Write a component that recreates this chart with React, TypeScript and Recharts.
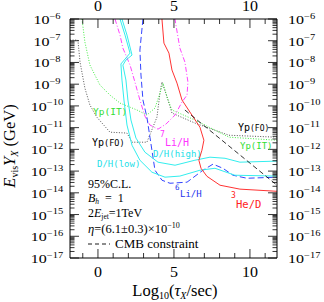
import React from "react";
import { ComposedChart, Line, XAxis, YAxis } from "recharts";

// [log10(tau/sec), log10(E_vis Y_X / GeV)]
type P = [number, number];

const ypFO: P[] = [
  [-1.84, -6.97], [-1.32, -6.97], [-1.18, -7.98], [-0.86, -9.18], [-0.53, -9.96],
  [-0.07, -10.52], [0.79, -11.21], [1.91, -11.25], [2.24, -11.67], [3.22, -11.67],
  [3.88, -10.52], [4.08, -9.41], [4.21, -8.9], [4.61, -9.73], [4.87, -10.33],
  [6.38, -10.79], [8.62, -11.35], [11.78, -11.44],
];

const ypIT: P[] = [
  [-1.05, -6.0], [-0.86, -7.06], [-0.53, -8.12], [0.13, -9.04], [0.79, -9.5],
  [1.45, -9.87], [2.57, -10.19], [3.22, -10.42], [3.75, -10.1], [4.08, -9.41],
  [4.28, -8.95], [4.61, -9.73], [4.87, -10.19], [6.38, -10.65], [8.62, -11.44],
  [11.78, -11.58],
];

const li7: P[] = [
  [1.12, -6.0], [1.45, -6.74], [1.64, -7.34], [2.11, -8.12], [2.43, -8.9],
  [2.76, -9.73], [3.09, -10.47], [3.42, -10.88], [3.95, -11.07], [4.47, -10.84],
  [5.07, -10.42], [5.53, -9.82], [5.86, -9.5], [5.92, -8.9], [5.72, -7.98],
  [5.39, -7.34], [5.13, -6.28], [5.07, -6.0],
];

const li6: P[] = [
  [2.96, -6.0], [2.76, -7.43], [2.83, -8.58], [2.96, -9.73], [3.22, -10.52],
  [3.42, -11.44], [3.62, -12.36], [3.75, -12.96], [4.21, -13.42], [4.74, -13.56],
  [5.86, -13.51], [6.91, -12.96], [7.57, -12.68], [8.22, -12.87], [8.88, -13.19],
  [9.8, -13.33], [11.78, -13.28],
];

const dhLow: P[] = [
  [1.45, -6.0], [1.78, -6.74], [2.11, -7.57], [1.51, -8.07], [1.58, -8.81],
  [1.71, -9.73], [1.91, -10.88], [2.24, -11.81], [2.76, -12.5], [3.55, -13.05],
  [4.41, -13.28], [5.39, -13.23], [6.71, -12.96], [7.7, -12.87], [9.01, -13.19],
  [11.78, -13.23],
];

const dhHigh: P[] = [
  [1.58, -6.0], [1.91, -6.74], [2.24, -7.66], [1.84, -7.89], [1.64, -8.12],
  [1.84, -8.81], [1.97, -9.73], [2.17, -10.65], [2.5, -11.48], [3.09, -12.13],
  [3.95, -12.59], [5.07, -12.73], [6.38, -12.5], [7.37, -12.36], [8.36, -12.41],
  [9.34, -12.59], [11.78, -12.54],
];

const he3: P[] = [
  [4.21, -6.0], [4.34, -7.11], [4.67, -7.57], [4.87, -8.35], [5.2, -8.95],
  [5.53, -9.73], [6.18, -10.42], [6.71, -10.98], [6.97, -11.58], [6.84, -12.04],
  [6.64, -12.5], [6.78, -12.87], [7.17, -13.24], [8.03, -13.65], [9.34, -13.83],
  [11.78, -13.93],
];

const cmb: P[] = [
  [5.72, -10.19], [11.78, -13.65],
];

const xTicks = [-1, 0, 1, 2, 3, 4, 5, 6, 7, 8, 9, 10, 11];
const xLabeled = [0, 5, 10];
const yDecades = [-17, -16, -15, -14, -13, -12, -11, -10, -9, -8, -7, -6];
const yMinorSteps = [2, 3, 4, 5, 6, 7, 8, 9];

const yTicks: number[] = [];
yDecades.forEach((d) => {
  yTicks.push(Math.pow(10, d));
  if (d < -6) yMinorSteps.forEach((k) => yTicks.push(k * Math.pow(10, d)));
});

const toPts = (arr: P[]) => arr.map(([x, e]) => ({ x, y: Math.pow(10, e) }));

const SERIF = "'Liberation Serif', 'DejaVu Serif', serif";
const MONO = "'DejaVu Sans Mono', 'Liberation Mono', monospace";

const isDecade = (v: number) => {
  const e = Math.log10(v);
  return Math.abs(e - Math.round(e)) < 1e-6;
};

// tick labels in the figure are wide and squat, so squash a larger font
function PowLabel({ x, y, e, anchor }: { x: number; y: number; e: number; anchor: "middle" | "start" }) {
  return (
    <text
      transform={`translate(${x},${y}) scale(1,0.78)`}
      textAnchor={anchor}
      fontFamily={SERIF}
      fontSize={16}
      fill="#000"
    >
      10
      <tspan dy={-7} fontSize={10.5}>
        {"\u2212" + Math.abs(e)}
      </tspan>
    </text>
  );
}

function LeftTick(props: any) {
  const { x, y, payload } = props;
  const v = payload.value;
  const major = isDecade(v);
  return (
    <g>
      <line x1={x} x2={x + (major ? 9 : 4.5)} y1={y} y2={y} stroke="#000" strokeWidth={0.8} />
      {major && <PowLabel x={x - 23} y={y + 5} e={Math.round(Math.log10(v))} anchor="middle" />}
    </g>
  );
}

function RightTick(props: any) {
  const { x, y, payload } = props;
  const v = payload.value;
  const major = isDecade(v);
  return (
    <g>
      <line x1={x} x2={x - (major ? 9 : 4.5)} y1={y} y2={y} stroke="#000" strokeWidth={0.8} />
      {major && <PowLabel x={x + 11} y={y + 5} e={Math.round(Math.log10(v))} anchor="start" />}
    </g>
  );
}

function NumLabel({ x, y, v }: { x: number; y: number; v: number }) {
  return (
    <text
      transform={`translate(${x},${y}) scale(1,0.85)`}
      textAnchor="middle"
      fontFamily={SERIF}
      fontSize={16}
      fill="#000"
    >
      {v}
    </text>
  );
}

function BottomTick(props: any) {
  const { x, y, payload } = props;
  const v = payload.value;
  const major = xLabeled.includes(v);
  return (
    <g>
      <line x1={x} x2={x} y1={y} y2={y - (major ? 9 : 5)} stroke="#000" strokeWidth={0.8} />
      {major && <NumLabel x={x} y={y + 19} v={v} />}
    </g>
  );
}

function TopTick(props: any) {
  const { x, y, payload } = props;
  const v = payload.value;
  const major = xLabeled.includes(v);
  return (
    <g>
      <line x1={x} x2={x} y1={y} y2={y + (major ? 9 : 5)} stroke="#000" strokeWidth={0.8} />
      {major && <NumLabel x={x} y={y - 8} v={v} />}
    </g>
  );
}

const series = [
  { key: "ypFO", data: ypFO, color: "#555555", dash: "1 1.6", width: 1 },
  { key: "ypIT", data: ypIT, color: "#44ee44", dash: "1 1.6", width: 1 },
  { key: "li7", data: li7, color: "#ff44ff", dash: "5 2 1 2", width: 1 },
  { key: "li6", data: li6, color: "#3344ff", dash: "6 3", width: 1 },
  { key: "dhLow", data: dhLow, color: "#33eeee", dash: undefined, width: 1 },
  { key: "dhHigh", data: dhHigh, color: "#33eeee", dash: undefined, width: 1 },
  { key: "he3", data: he3, color: "#ff3333", dash: undefined, width: 1 },
  { key: "cmb", data: cmb, color: "#000000", dash: "5 3", width: 0.8 },
];

export default function App() {
  return (
    <div style={{ position: "absolute", left: 0, top: 0, width: 324, height: 302, background: "#fff" }}>
      <ComposedChart width={324} height={302} margin={{ top: 18, right: 46, bottom: 43, left: 69 }}>
        <XAxis
          xAxisId="b"
          dataKey="x"
          type="number"
          domain={[-1.84, 11.78]}
          allowDataOverflow
          ticks={xTicks}
          interval={0}
          height={1}
          tickSize={0}
          tickMargin={0}
          tickLine={false}
          axisLine={{ stroke: "#000" }}
          tick={(p: any) => <BottomTick {...p} />}
        />
        <XAxis
          xAxisId="t"
          orientation="top"
          dataKey="x"
          type="number"
          domain={[-1.84, 11.78]}
          allowDataOverflow
          ticks={xTicks}
          interval={0}
          height={1}
          tickSize={0}
          tickMargin={0}
          tickLine={false}
          axisLine={{ stroke: "#000" }}
          tick={(p: any) => <TopTick {...p} />}
        />
        <YAxis
          yAxisId="l"
          type="number"
          scale="log"
          domain={[1e-17, 1e-6]}
          allowDataOverflow
          ticks={yTicks}
          interval={0}
          width={1}
          tickSize={0}
          tickMargin={0}
          tickLine={false}
          axisLine={{ stroke: "#000" }}
          tick={(p: any) => <LeftTick {...p} />}
        />
        <YAxis
          yAxisId="r"
          orientation="right"
          type="number"
          scale="log"
          domain={[1e-17, 1e-6]}
          allowDataOverflow
          ticks={yTicks}
          interval={0}
          width={1}
          tickSize={0}
          tickMargin={0}
          tickLine={false}
          axisLine={{ stroke: "#000" }}
          tick={(p: any) => <RightTick {...p} />}
        />
        {series.map((s) => (
          <Line
            key={s.key}
            xAxisId="b"
            yAxisId="l"
            data={toPts(s.data)}
            dataKey="y"
            type="linear"
            stroke={s.color}
            strokeWidth={s.width}
            strokeDasharray={s.dash}
            dot={false}
            activeDot={false}
            isAnimationActive={false}
          />
        ))}
      </ComposedChart>
      <svg width={324} height={302} style={{ position: "absolute", left: 0, top: 0, pointerEvents: "none" }}>
        {/* axis titles */}
        <text transform="translate(15,146) rotate(-90)" textAnchor="middle" fontFamily={SERIF} fontSize={16.5} fill="#000">
          <tspan fontStyle="italic">E</tspan>
          <tspan fontSize={10} dy={3}>vis</tspan>
          <tspan fontStyle="italic" dy={-3}>Y</tspan>
          <tspan fontSize={10} fontStyle="italic" dy={3}>X</tspan>
          <tspan dy={-3}>{"\u00a0(GeV)"}</tspan>
        </text>
        <text x={175} y={296} textAnchor="middle" fontFamily={SERIF} fontSize={16.5} fill="#000">
          Log
          <tspan fontSize={10} dy={3}>10</tspan>
          <tspan dy={-3}>(</tspan>
          <tspan fontStyle="italic">τ</tspan>
          <tspan fontSize={10} fontStyle="italic" dy={3}>X</tspan>
          <tspan dy={-3}>/sec)</tspan>
        </text>

        {/* curve labels */}
        <text x={93} y={115} fontFamily={MONO} fontSize={9.5} fill="#33dd33">Yp(IT)</text>
        <text x={92} y={146} fontFamily={MONO} fill="#000">
          <tspan fontSize={10}>Yp</tspan>
          <tspan fontSize={8.5}>(FO)</tspan>
        </text>
        <text x={97} y={167} fontFamily={MONO} fontSize={9} fill="#22e0e8">D/H(low)</text>
        <text x={153} y={157} fontFamily={MONO} fontSize={9} fill="#22e0e8">D/H(high)</text>
        <text x={160} y={137} fontFamily={MONO} fontSize={8} fill="#ff33ff">7</text>
        <text x={165} y={146} fontFamily={MONO} fontSize={10} fill="#ff33ff">Li/H</text>
        <text x={175} y={190} fontFamily={MONO} fontSize={7.5} fill="#2233ee">6</text>
        <text x={180} y={197} fontFamily={MONO} fontSize={9} fill="#2233ee">Li/H</text>
        <text x={231} y={198} fontFamily={MONO} fontSize={8} fill="#ff2222">3</text>
        <text x={236} y={208} fontFamily={MONO} fontSize={10.5} fill="#ff2222">He/D</text>
        <text x={238} y={131} fontFamily={MONO} fill="#000">
          <tspan fontSize={10}>Yp</tspan>
          <tspan fontSize={8}>(FO)</tspan>
        </text>
        <text x={240} y={149} fontFamily={MONO} fontSize={9} fill="#33dd33">Yp(IT)</text>

        {/* parameter block */}
        <g fontFamily={SERIF} fontSize={12} fill="#000">
          <text x={88} y={188}>95%C.L.</text>
          <text x={88} y={202}>
            <tspan fontStyle="italic">B</tspan>
            <tspan fontSize={7.5} fontStyle="italic" dy={1.5}>h</tspan>
            <tspan dy={-1.5}>{"\u00a0\u00a0=\u00a0\u00a01"}</tspan>
          </text>
          <text x={88} y={217}>
            2<tspan fontStyle="italic">E</tspan>
            <tspan fontSize={7.5} dy={2}>jet</tspan>
            <tspan dy={-2}>=1TeV</tspan>
          </text>
          <text x={88} y={232.5} fontSize={12.5}>
            <tspan fontStyle="italic">η</tspan>=(6.1±0.3)×10
            <tspan fontSize={8} dy={-5}>−10</tspan>
          </text>
          <line x1={88} x2={110} y1={244} y2={244} stroke="#000" strokeWidth={0.9} strokeDasharray="4 3" />
          <text x={115} y={248} fontSize={13}>CMB constraint</text>
        </g>
      </svg>
    </div>
  );
}
